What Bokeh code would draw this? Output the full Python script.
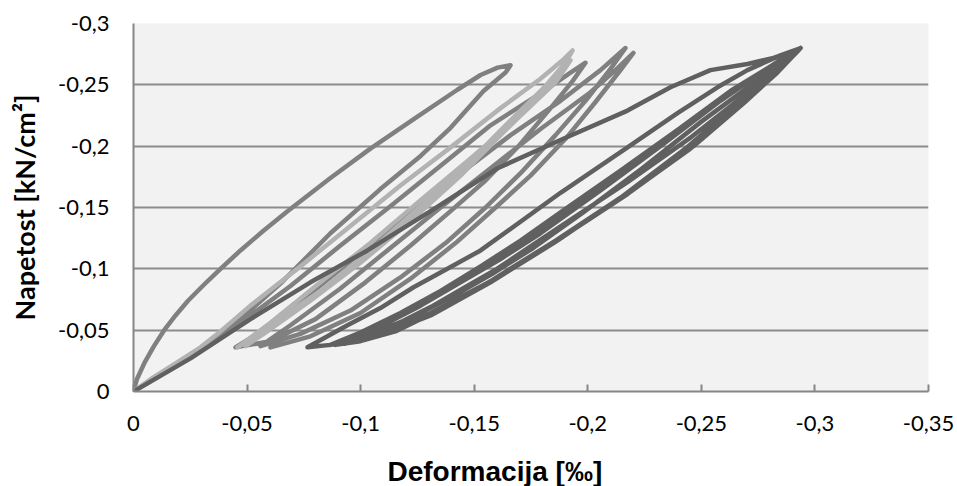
from bokeh.plotting import figure
from bokeh.models import Range1d, FixedTicker, Title
from bokeh.embed import file_html
from bokeh.resources import INLINE

# ---- data ----
x_ticks = [0, -0.05, -0.1, -0.15, -0.2, -0.25, -0.3, -0.35]
x_tick_labels = ["0", "-0,05", "-0,1", "-0,15", "-0,2", "-0,25", "-0,3", "-0,35"]
y_ticks = [0, -0.05, -0.1, -0.15, -0.2, -0.25, -0.3]
y_tick_labels = ["0", "-0,05", "-0,1", "-0,15", "-0,2", "-0,25", "-0,3"]

# series 1 (medium gray): strain [permille], stress [kN/cm2]
s1_x = [0, -0.0015, -0.0050, -0.0090, -0.0135, -0.0185, -0.0240, -0.0310, -0.0383, -0.0471, -0.0572, -0.0678, -0.0867, -0.1043, -0.1242, -0.1426, -0.1528, -0.1603, -0.1660,
        -0.1638, -0.1541, -0.1396, -0.1264, -0.1087, -0.0867, -0.0647, -0.0471, -0.0317,
        -0.0471, -0.0691, -0.0911, -0.1131, -0.1352, -0.1572, -0.1792, -0.1924, -0.1990,
        -0.1933, -0.1827, -0.1695, -0.1550, -0.1396, -0.1220, -0.1021, -0.0801, -0.0603, -0.0449,
        -0.0581, -0.0779, -0.0999, -0.1220, -0.1440, -0.1660, -0.1880, -0.2056, -0.2166,
        -0.2100, -0.1990, -0.1858, -0.1704, -0.1550, -0.1374, -0.1175, -0.0955, -0.0735, -0.0559,
        -0.0691, -0.0911, -0.1131, -0.1352, -0.1572, -0.1792, -0.2012, -0.2122, -0.2201,
        -0.2144, -0.2034, -0.1902, -0.1748, -0.1594, -0.1418, -0.1220, -0.0999, -0.0779, -0.0603]
s1_y = [0, -0.010, -0.024, -0.037, -0.050, -0.062, -0.074, -0.087, -0.100, -0.115, -0.131, -0.147, -0.174, -0.198, -0.223, -0.246, -0.258, -0.264, -0.266,
        -0.260, -0.245, -0.215, -0.192, -0.165, -0.129, -0.088, -0.059, -0.036,
        -0.056, -0.086, -0.119, -0.151, -0.184, -0.217, -0.243, -0.260, -0.268,
        -0.253, -0.229, -0.200, -0.172, -0.147, -0.119, -0.089, -0.059, -0.041, -0.036,
        -0.051, -0.080, -0.113, -0.146, -0.178, -0.209, -0.237, -0.262, -0.280,
        -0.263, -0.237, -0.209, -0.178, -0.150, -0.121, -0.093, -0.066, -0.047, -0.037,
        -0.054, -0.084, -0.117, -0.150, -0.182, -0.214, -0.244, -0.262, -0.276,
        -0.262, -0.236, -0.206, -0.176, -0.150, -0.121, -0.092, -0.064, -0.045, -0.036]

# series 2 (light gray)
s2_x = [0, -0.0075, -0.0185, -0.0295, -0.0383, -0.0515, -0.0735, -0.0955, -0.1175, -0.1396, -0.1616, -0.1792, -0.1889, -0.1933,
        -0.1902, -0.1814, -0.1660, -0.1484, -0.1264, -0.1043, -0.0823, -0.0603, -0.0458,
        -0.0603, -0.0823, -0.1043, -0.1264, -0.1484, -0.1704, -0.1858, -0.1924,
        -0.1880, -0.1770, -0.1616, -0.1440, -0.1220, -0.0999, -0.0779, -0.0581, -0.0493]
s2_y = [0, -0.010, -0.023, -0.036, -0.049, -0.070, -0.102, -0.135, -0.168, -0.199, -0.231, -0.255, -0.270, -0.278,
        -0.268, -0.249, -0.221, -0.188, -0.151, -0.115, -0.082, -0.054, -0.036,
        -0.056, -0.089, -0.121, -0.156, -0.190, -0.225, -0.252, -0.270,
        -0.258, -0.237, -0.209, -0.176, -0.139, -0.105, -0.074, -0.048, -0.037]

# series 3 (dark gray)
s3_x = [0, -0.0251, -0.0515, -0.0779, -0.1030, -0.1308, -0.1603, -0.1880, -0.2175, -0.2364, -0.2540, -0.2703, -0.2818, -0.2937,
        -0.2835, -0.2686, -0.2465, -0.2175, -0.1880, -0.1603, -0.1453, -0.1308, -0.1162, -0.1013, -0.0867, -0.0766,
        -0.0942, -0.1087, -0.1233, -0.1382, -0.1528, -0.1880, -0.2175, -0.2395, -0.2571, -0.2703, -0.2848, -0.2937,
        -0.2914, -0.2813, -0.2663, -0.2443, -0.2153, -0.1858, -0.1581, -0.1308, -0.1087, -0.0933, -0.0867,
        -0.0999, -0.1175, -0.1352, -0.1528, -0.1704, -0.1880, -0.2144, -0.2408, -0.2628, -0.2804, -0.2914,
        -0.2804, -0.2650, -0.2430, -0.2144, -0.1858, -0.1572, -0.1308, -0.1087, -0.0933,
        -0.1087, -0.1264, -0.1440, -0.1616, -0.1792, -0.2056, -0.2320, -0.2584, -0.2804, -0.2928,
        -0.2826, -0.2672, -0.2452, -0.2166, -0.1871, -0.1594, -0.1440, -0.1308, -0.1153, -0.0999, -0.0889,
        -0.1043, -0.1220, -0.1396, -0.1572, -0.1748, -0.1968, -0.2232, -0.2496, -0.2716, -0.2870, -0.2937,
        -0.2830, -0.2680, -0.2460, -0.2170, -0.1875, -0.1600, -0.1450, -0.1310, -0.1160, -0.1010, -0.0900,
        -0.1050, -0.1220, -0.1400, -0.1580, -0.1760, -0.1980, -0.2240, -0.2500, -0.2720, -0.2870, -0.2937]
s3_y = [0, -0.027, -0.059, -0.089, -0.115, -0.147, -0.182, -0.205, -0.229, -0.248, -0.262, -0.267, -0.272, -0.280,
        -0.260, -0.235, -0.200, -0.161, -0.125, -0.093, -0.078, -0.064, -0.052, -0.043, -0.038, -0.036,
        -0.054, -0.068, -0.085, -0.100, -0.115, -0.162, -0.199, -0.227, -0.248, -0.262, -0.274, -0.280,
        -0.278, -0.258, -0.232, -0.198, -0.159, -0.123, -0.091, -0.062, -0.046, -0.040, -0.038,
        -0.048, -0.064, -0.082, -0.102, -0.123, -0.146, -0.180, -0.215, -0.245, -0.265, -0.278,
        -0.259, -0.233, -0.198, -0.158, -0.122, -0.089, -0.062, -0.046, -0.039,
        -0.053, -0.070, -0.089, -0.108, -0.129, -0.164, -0.200, -0.237, -0.265, -0.278,
        -0.259, -0.233, -0.198, -0.160, -0.124, -0.092, -0.077, -0.063, -0.049, -0.041, -0.038,
        -0.050, -0.066, -0.085, -0.105, -0.126, -0.156, -0.191, -0.227, -0.254, -0.272, -0.280,
        -0.262, -0.240, -0.208, -0.170, -0.134, -0.100, -0.084, -0.069, -0.055, -0.045, -0.040,
        -0.047, -0.060, -0.077, -0.096, -0.117, -0.146, -0.182, -0.220, -0.250, -0.270, -0.280]

x_title = "Deformacija [‰]"
y_title = "Napetost [kN/cm²]"

# ---- figure ----
p = figure(width=957, height=486, output_backend="svg", toolbar_location=None,
           x_range=Range1d(0, -0.35), y_range=Range1d(0, -0.3),
           min_border_left=133, min_border_right=29, min_border_top=23, min_border_bottom=95)
p.background_fill_color = "#f2f2f2"
p.border_fill_color = "white"
p.outline_line_color = None

p.xgrid.visible = False
p.ygrid.ticker = FixedTicker(ticks=y_ticks)
p.ygrid.grid_line_color = "#8c8c8c"
p.ygrid.grid_line_width = 2

GRAY_AX = "#868686"
for ax in (p.xaxis[0], p.yaxis[0]):
    ax.axis_line_color = GRAY_AX
    ax.axis_line_width = 2
    ax.minor_tick_line_color = None
    ax.major_label_text_font = "Lato"
    ax.major_label_text_font_size = "22px"
    ax.major_label_text_color = "#000000"
    ax.major_tick_line_color = GRAY_AX
    ax.major_tick_line_width = 2

p.xaxis.ticker = FixedTicker(ticks=x_ticks)
p.xaxis.major_label_overrides = dict(zip(x_ticks, x_tick_labels))
p.xaxis.major_tick_in = 7
p.xaxis.major_tick_out = 0
p.xaxis.major_label_standoff = 24
# blank spacer label so the title sits low like in the original
p.xaxis.axis_label = " "
p.xaxis.axis_label_text_font_size = "15px"
p.xaxis.axis_label_standoff = 0

p.yaxis.ticker = FixedTicker(ticks=y_ticks)
p.yaxis.major_label_overrides = dict(zip(y_ticks, y_tick_labels))
p.yaxis.major_tick_in = 0
p.yaxis.major_tick_out = 0
p.yaxis.major_label_standoff = 24
p.yaxis.axis_label = y_title
p.yaxis.axis_label_text_font = "Lato"
p.yaxis.axis_label_text_font_style = "bold"
p.yaxis.axis_label_text_font_size = "27px"
p.yaxis.axis_label_text_color = "#000000"
p.yaxis.axis_label_standoff = 14

common = dict(line_width=4.5, line_join="round", line_cap="round")
p.line(s1_x, s1_y, line_color="#808080", **common)
p.line(s2_x, s2_y, line_color="#b2b2b2", **common)
p.line(s3_x, s3_y, line_color="#606060", **common)

p.add_layout(Title(text=x_title, align="left", offset=254, standoff=0, vertical_align="bottom",
                   text_font="Liberation Sans", text_font_style="bold",
                   text_font_size="28px", text_color="#000000"), "below")

open("out.html", "w").write(file_html(p, INLINE))
